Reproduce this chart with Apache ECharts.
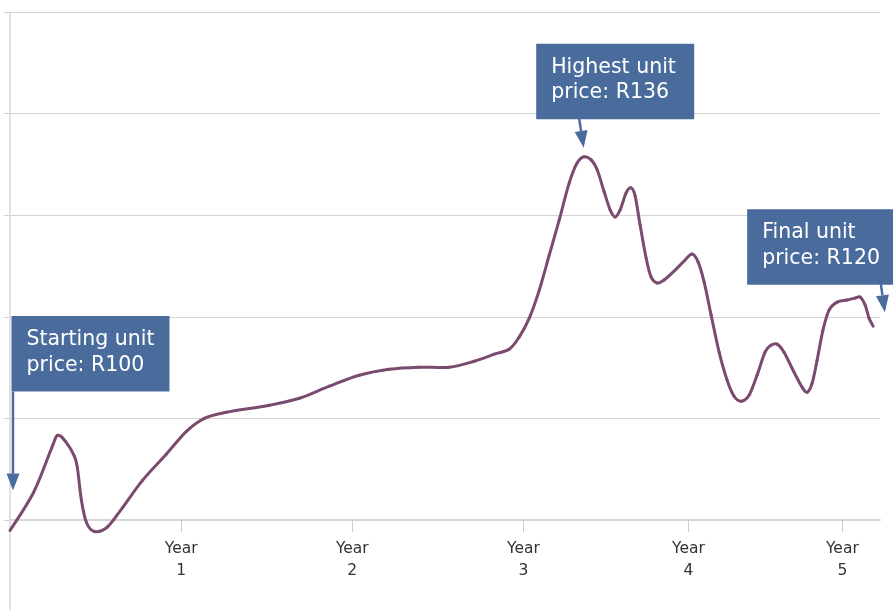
<!DOCTYPE html>
<html>
<head>
<meta charset="utf-8">
<script src="https://cdn.jsdelivr.net/npm/echarts@6/dist/echarts.min.js"></script>
<style>
  html, body { margin: 0; padding: 0; background: #ffffff; }
  #chart { width: 893px; height: 610px; }
</style>
</head>
<body>
<div id="chart"></div>
<script>
// Time in months since start (x), unit price in Rand (y)
const months = [0, 1.65, 2.91, 3.33, 3.89, 4.52, 4.73, 5.01, 5.36, 5.92, 6.83, 7.88, 9.29, 10.97, 12.37, 13.63, 15.17, 18.18, 20.29, 22.39, 24.49, 26.59, 28.7, 30.8, 32.55, 33.95, 35.0, 35.7, 36.41, 37.11, 37.81, 38.51, 39.21, 39.77, 40.26, 40.75, 41.17, 41.66, 42.08, 42.43, 42.78, 43.2, 43.55, 43.83, 44.18, 44.6, 44.95, 45.38, 45.86, 46.57, 47.27, 47.82, 48.25, 48.67, 49.16, 49.72, 50.28, 50.77, 51.26, 51.82, 52.38, 52.94, 53.37, 53.78, 54.27, 54.97, 55.54, 55.89, 56.24, 56.59, 57.0, 57.43, 58.0, 58.69, 59.25, 59.6, 59.96, 60.23, 60.52];
const prices = [98.96, 102.71, 107.05, 108.33, 107.74, 106.26, 105.08, 101.92, 99.75, 98.87, 99.31, 101.2, 103.9, 106.5, 108.73, 110.01, 110.6, 111.29, 111.98, 113.17, 114.25, 114.84, 115.04, 115.04, 115.63, 116.32, 116.81, 118.0, 119.87, 122.63, 126.08, 129.54, 133.18, 135.16, 135.75, 135.45, 134.47, 132.3, 130.52, 129.83, 130.52, 132.2, 132.69, 131.9, 129.04, 125.79, 123.92, 123.32, 123.62, 124.51, 125.49, 126.18, 125.39, 123.42, 120.17, 116.52, 113.76, 112.18, 111.69, 112.28, 114.25, 116.52, 117.21, 117.31, 116.52, 114.55, 113.07, 112.57, 113.46, 115.73, 118.69, 120.66, 121.45, 121.65, 121.84, 121.94, 121.15, 119.87, 119.08];
const yearTicks = [12, 24, 36, 47.57, 58.36];
const yearLabels = ['Year\n1', 'Year\n2', 'Year\n3', 'Year\n4', 'Year\n5'];
const notes = [
  { text: 'Starting unit\nprice: R100', at: 'start' },
  { text: 'Highest unit\nprice: R136', at: 'max' },
  { text: 'Final unit\nprice: R120', at: 'end' }
];

const boxColor = '#4a6c9c';
const lineColor = '#7b4a6f';
const gridColor = '#d3d3d3';
const textFont = 'DejaVu Sans';

const chart = echarts.init(document.getElementById('chart'), null, { renderer: 'canvas' });

// Smooth curve through the data points, drawn through the chart's own coordinate system
function renderCurve(params, api) {
  if (params.dataIndex !== 0) return null;
  const pts = months.map((m, i) => api.coord([m, prices[i]]));
  const children = [];
  const n = pts.length;
  for (let i = 0; i < n - 1; i++) {
    const p0 = pts[Math.max(i - 1, 0)], p1 = pts[i], p2 = pts[i + 1], p3 = pts[Math.min(i + 2, n - 1)];
    children.push({
      type: 'bezierCurve',
      shape: {
        x1: p1[0], y1: p1[1], x2: p2[0], y2: p2[1],
        cpx1: p1[0] + (p2[0] - p0[0]) / 6, cpy1: p1[1] + (p2[1] - p0[1]) / 6,
        cpx2: p2[0] - (p3[0] - p1[0]) / 6, cpy2: p2[1] - (p3[1] - p1[1]) / 6
      },
      style: { stroke: lineColor, lineWidth: 3, fill: null, lineCap: 'round', lineJoin: 'round' }
    });
  }
  return { type: 'group', children: children };
}

const option = {
  backgroundColor: '#ffffff',
  animation: false,
  grid: { left: 10, right: 13, top: 12, bottom: 90, containLabel: false },
  xAxis: {
    type: 'value',
    min: 0,
    max: 61,
    axisLine: { show: true, lineStyle: { color: '#d6d6d6', width: 2 } },
    axisTick: { show: true, length: 12, customValues: yearTicks, lineStyle: { color: '#cccccc', width: 1 } },
    axisLabel: {
      show: true,
      customValues: yearTicks,
      margin: 18,
      color: '#333333',
      fontFamily: textFont,
      fontSize: 15.5,
      lineHeight: 22,
      align: 'center',
      formatter: function (v) {
        const i = yearTicks.indexOf(v);
        return i >= 0 ? yearLabels[i] : '';
      }
    },
    splitLine: { show: false }
  },
  yAxis: {
    type: 'value',
    min: 100,
    max: 150,
    interval: 10,
    axisLine: { show: true, lineStyle: { color: '#e0e0e0', width: 2 } },
    axisTick: { show: true, length: 6, lineStyle: { color: gridColor, width: 1 } },
    axisLabel: { show: false },
    splitLine: { show: true, lineStyle: { color: gridColor, width: 1 } }
  },
  series: [{
    type: 'custom',
    data: months.map((m, i) => [m, prices[i]]),
    encode: { x: 0, y: 1 },
    renderItem: renderCurve,
    clip: false,
    silent: true,
    z: 5
  }]
};
chart.setOption(option);

function arrow(x1, y1, x2, y2) {
  const a = Math.atan2(y2 - y1, x2 - x1);
  const hl = 17, hw = 6.5;
  const bx = x2 - hl * Math.cos(a), by = y2 - hl * Math.sin(a);
  return [
    { type: 'line', shape: { x1: x1, y1: y1, x2: bx, y2: by }, style: { stroke: boxColor, lineWidth: 2.5 }, z: 20 },
    { type: 'polygon', shape: { points: [[x2, y2], [bx + hw * Math.sin(a), by - hw * Math.cos(a)], [bx - hw * Math.sin(a), by + hw * Math.cos(a)]] }, style: { fill: boxColor }, z: 20 }
  ];
}
function box(x, y, w, h, text) {
  return [
    { type: 'rect', shape: { x: x, y: y, width: w, height: h }, style: { fill: boxColor }, z: 19 },
    { type: 'text', x: x + 15, y: y + 11, style: { text: text, fill: '#ffffff', fontFamily: textFont, fontSize: 20.5, lineHeight: 25.5, verticalAlign: 'top', align: 'left' }, z: 21 }
  ];
}

let maxIdx = 0;
prices.forEach((p, i) => { if (p > prices[maxIdx]) maxIdx = i; });
const p0 = chart.convertToPixel({ gridIndex: 0 }, [months[0], prices[0]]);
const pM = chart.convertToPixel({ gridIndex: 0 }, [months[maxIdx], prices[maxIdx]]);
const pE = chart.convertToPixel({ gridIndex: 0 }, [months[months.length - 1], prices[prices.length - 1]]);
const base = chart.convertToPixel({ gridIndex: 0 }, [0, 100]);

let g = [];
// y axis line continues below the x axis
g.push({ type: 'line', shape: { x1: base[0], y1: base[1], x2: base[0], y2: 610 }, style: { stroke: '#e0e0e0', lineWidth: 2 }, z: 1 });
// start
g = g.concat(box(p0[0] + 1.5, p0[1] - 214.5, 158, 75.5, notes[0].text));
g = g.concat(arrow(p0[0] + 3, p0[1] - 139, p0[0] + 3, p0[1] - 40));
// max
g = g.concat(box(pM[0] - 48, pM[1] - 113, 158, 75.5, notes[1].text));
g = g.concat(arrow(pM[0] - 5, pM[1] - 38, pM[0] - 0.5, pM[1] - 9));
// end
g = g.concat(box(pE[0] - 126, pE[1] - 117, 160, 75.5, notes[2].text));
g = g.concat(arrow(pE[0] + 7.7, pE[1] - 42, pE[0] + 11.7, pE[1] - 14));

chart.setOption({ graphic: g });
</script>
</body>
</html>
